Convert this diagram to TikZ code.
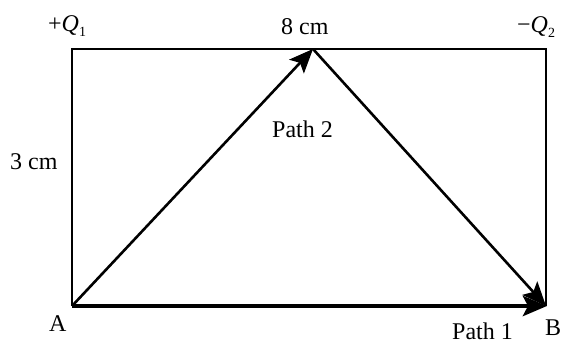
\documentclass[tikz,border=0pt]{standalone}
\usepackage{fontspec}
\setmainfont{Liberation Serif}
\usetikzlibrary{arrows.meta}
\tikzset{
  lbl/.style={inner sep=0pt, anchor=base west, font=\fontsize{24}{28}\selectfont},
  frame/.style={line width=2pt, black},
  path2/.style={line width=2.6pt, -{Stealth[length=24pt,width=20pt,inset=5pt]}},
  path1/.style={line width=4.5pt, -{Stealth[length=24pt,width=20pt,inset=5pt]}}
}
\newcommand{\subq}[1]{\raisebox{-5pt}{\fontsize{14}{14}\selectfont #1}}
\begin{document}
\begin{tikzpicture}[x=1pt,y=-1pt]
\useasboundingbox (0,0) rectangle (562,345);
\coordinate (A) at (72,306);
\coordinate (B) at (546,306);
\coordinate (TL) at (72,49);
\coordinate (TR) at (546,49);
\coordinate (P) at (313,49);
\draw[frame] (A) -- (TL) -- (TR) -- (B);
\draw[path1,shorten >=-1pt] (A) -- (B);
\draw[path2] (A) -- (P);
\draw[path2] (P) -- (B);
\node[lbl] (q1) at (48,32) {+\textit{Q}\subq{1}};
\node[lbl] (w) at (281,35) {8 cm};
\node[lbl] (q2) at (517,33) {−\textit{Q}\subq{2}};
\node[lbl] (h) at (10,169) {3 cm};
\node[lbl] (p2) at (272,137) {Path 2};
\node[lbl] (la) at (49,331) {A};
\node[lbl] (lb) at (545,335) {B};
\node[lbl] (p1) at (452,339) {Path 1};
\end{tikzpicture}
\end{document}
